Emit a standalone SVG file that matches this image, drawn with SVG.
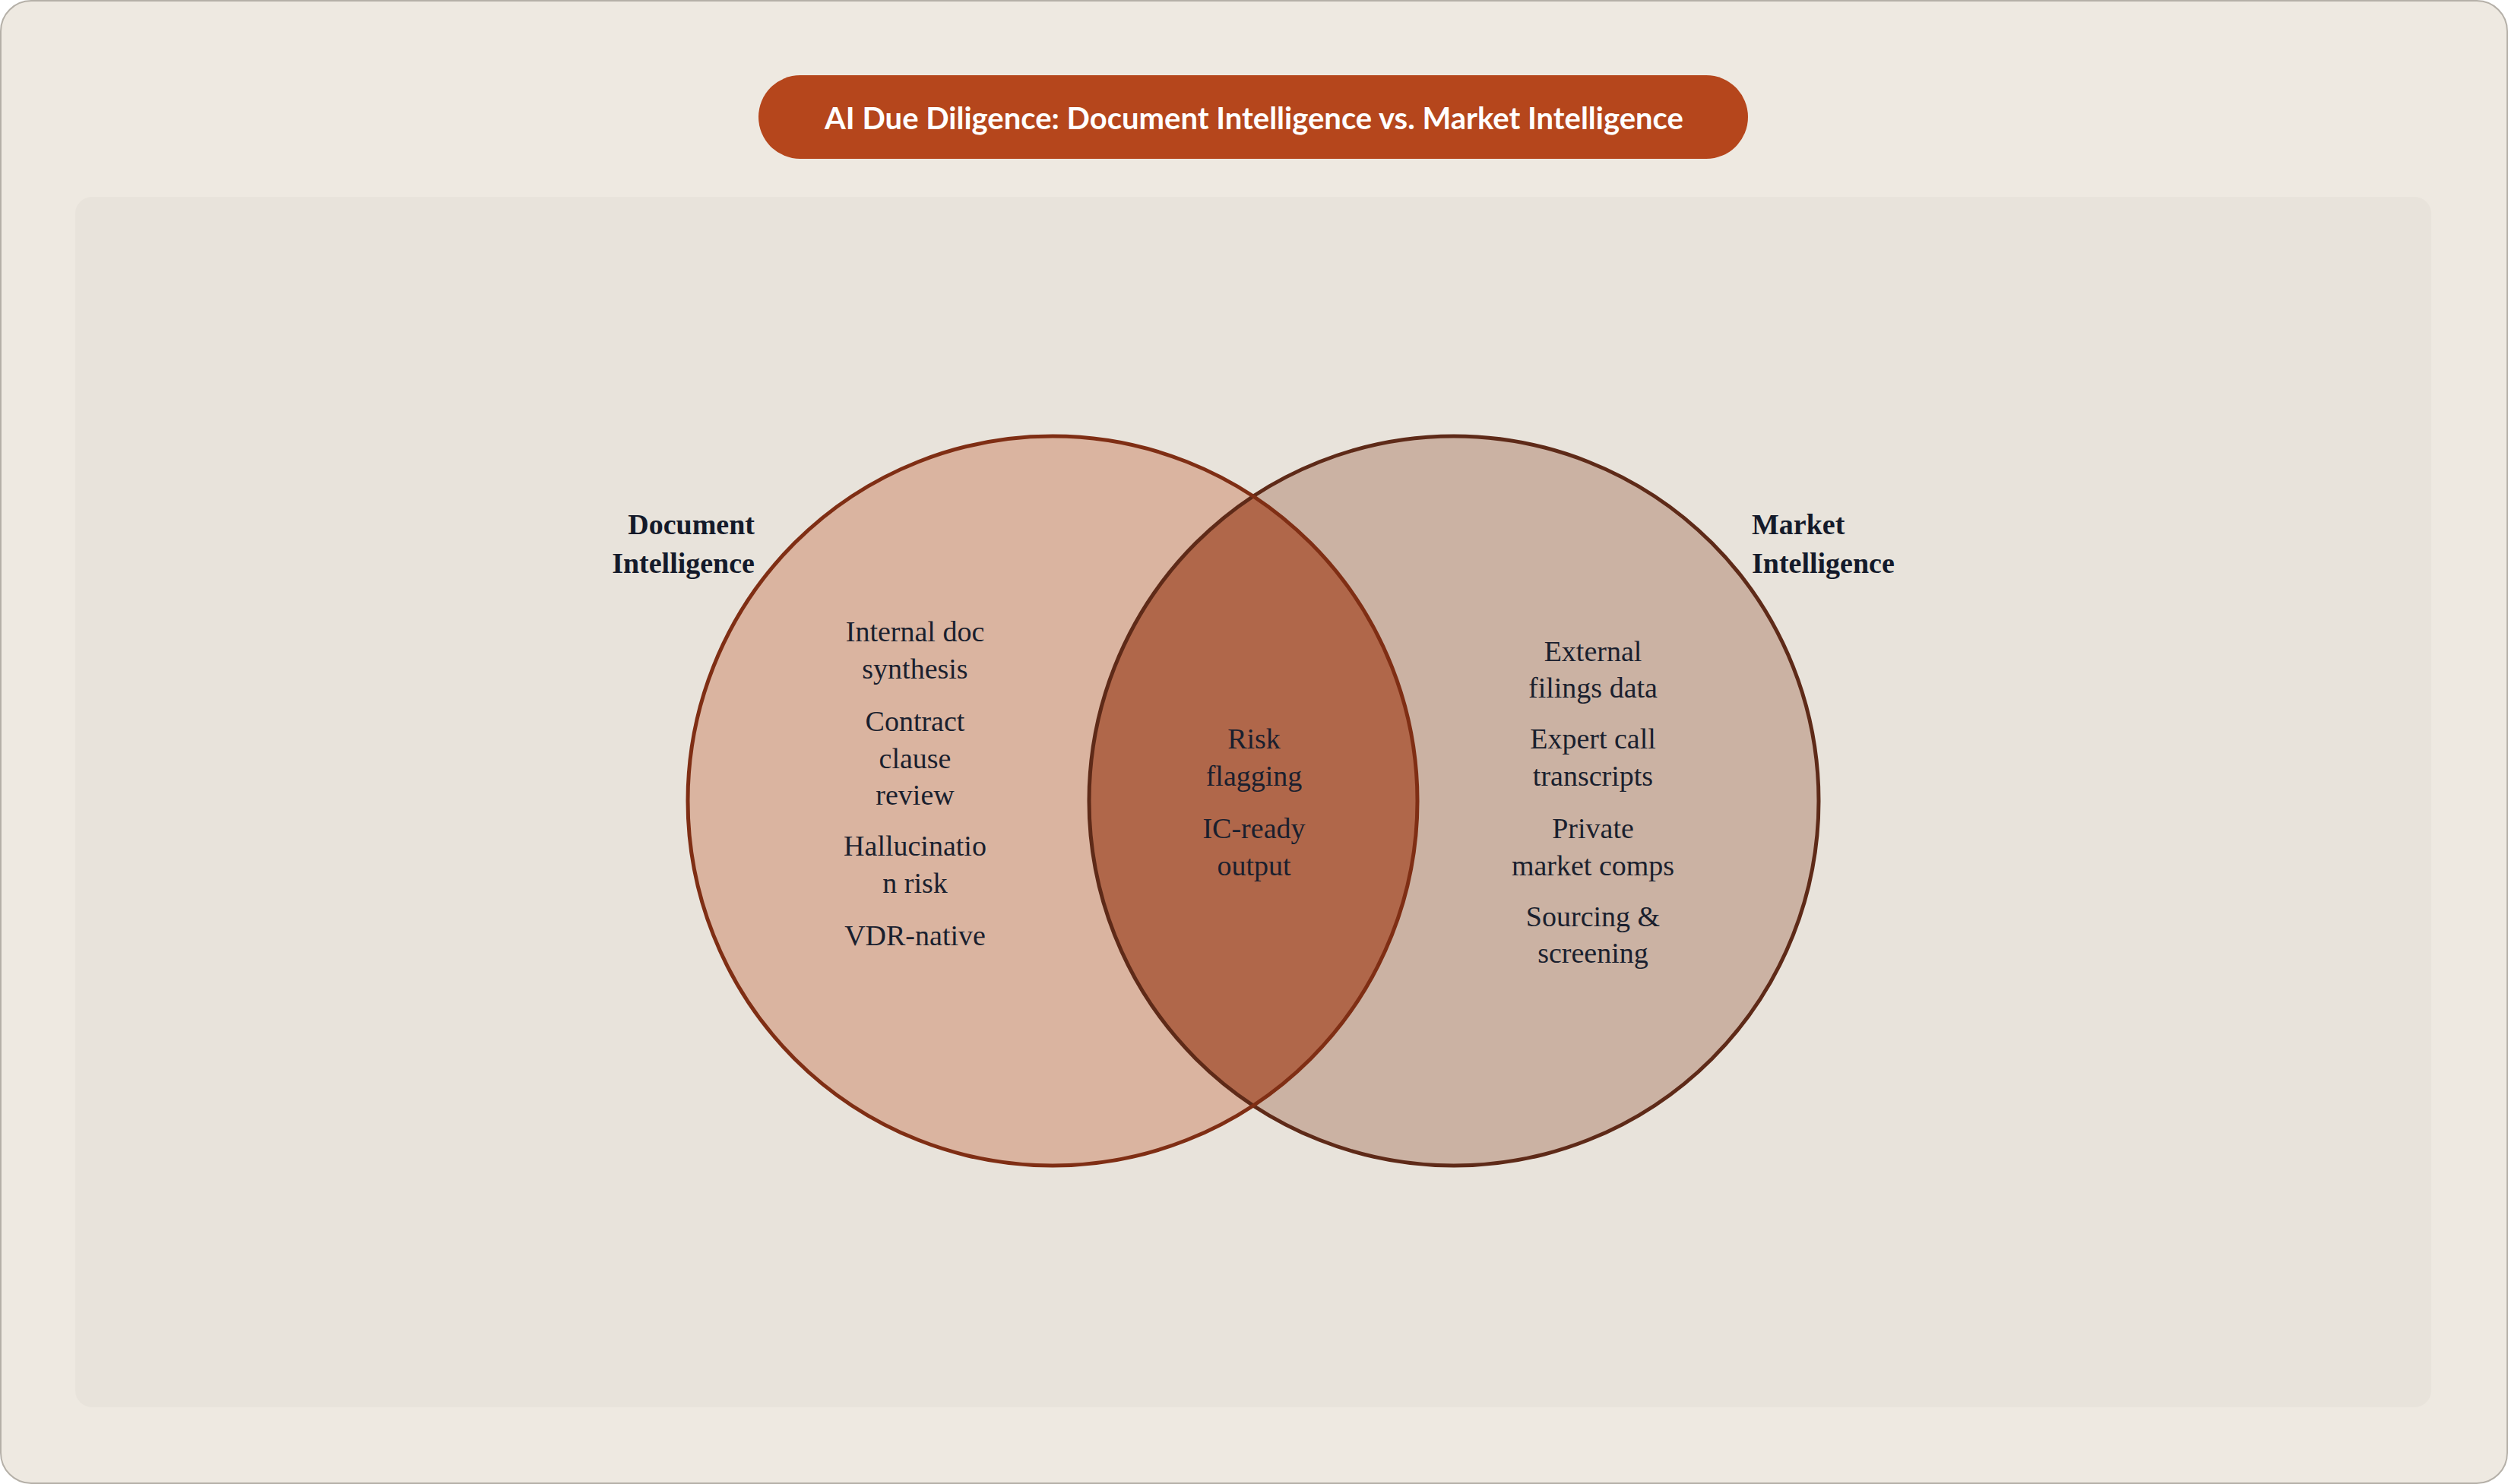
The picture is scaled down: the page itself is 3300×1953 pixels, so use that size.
<svg xmlns="http://www.w3.org/2000/svg" width="3300" height="1953" viewBox="0 0 3300 1953">
<style>
.item{font-family:"Liberation Serif",serif;font-size:38px;fill:#1a1f2e;text-anchor:middle;dominant-baseline:central}
.lbl{font-family:"Liberation Serif",serif;font-size:38px;font-weight:bold;fill:#141a2a;dominant-baseline:central}
</style>
<defs><clipPath id="cl"><circle cx="1385" cy="1054" r="480"/></clipPath></defs>
<rect x="1" y="1" width="3298" height="1951" rx="40" fill="#EEE9E1" stroke="#b5b0a8" stroke-width="2"/>
<rect x="99" y="259" width="3100" height="1593" rx="22" fill="#E8E3DB"/>
<g id="title">
<rect x="998" y="99" width="1302" height="110" rx="55" fill="#B5461C"/>
<text x="1650" y="155" font-family="Lato,'Open Sans',sans-serif" font-size="40" font-weight="bold" fill="#fff" text-anchor="middle" dominant-baseline="central">AI Due Diligence: Document Intelligence vs. Market Intelligence</text>
</g>
<g id="market">
<circle cx="1913" cy="1054" r="480" fill="#CBB2A3"/>
</g>
<g id="document">
<circle cx="1385" cy="1054" r="480" fill="#DAB4A0"/>
</g>
<g id="overlap">
<circle cx="1913" cy="1054" r="480" fill="#B0674A" clip-path="url(#cl)"/>
</g>
<g id="outlines" fill="none" stroke-width="5">
<circle cx="1913" cy="1054" r="480" stroke="#5E2A18"/>
<circle cx="1385" cy="1054" r="480" stroke="#7F2E14"/>
</g>
<g id="labels">
<text class="lbl" x="993" y="690" text-anchor="end">Document</text>
<text class="lbl" x="993" y="741" text-anchor="end">Intelligence</text>
<text class="lbl" x="2305" y="690">Market</text>
<text class="lbl" x="2305" y="741">Intelligence</text>
</g>
<g id="left-items">
<text class="item" x="1204" y="831">Internal doc</text>
<text class="item" x="1204" y="880">synthesis</text>
<text class="item" x="1204" y="949">Contract</text>
<text class="item" x="1204" y="998">clause</text>
<text class="item" x="1204" y="1046">review</text>
<text class="item" x="1204" y="1113">Hallucinatio</text>
<text class="item" x="1204" y="1162">n risk</text>
<text class="item" x="1204" y="1231">VDR-native</text>
</g>
<g id="center-items">
<text class="item" x="1650" y="972">Risk</text>
<text class="item" x="1650" y="1021">flagging</text>
<text class="item" x="1650" y="1090">IC-ready</text>
<text class="item" x="1650" y="1139">output</text>
</g>
<g id="right-items">
<text class="item" x="2096" y="857">External</text>
<text class="item" x="2096" y="905">filings data</text>
<text class="item" x="2096" y="972">Expert call</text>
<text class="item" x="2096" y="1021">transcripts</text>
<text class="item" x="2096" y="1090">Private</text>
<text class="item" x="2096" y="1139">market comps</text>
<text class="item" x="2096" y="1206">Sourcing &amp;</text>
<text class="item" x="2096" y="1254">screening</text>
</g>
</svg>
